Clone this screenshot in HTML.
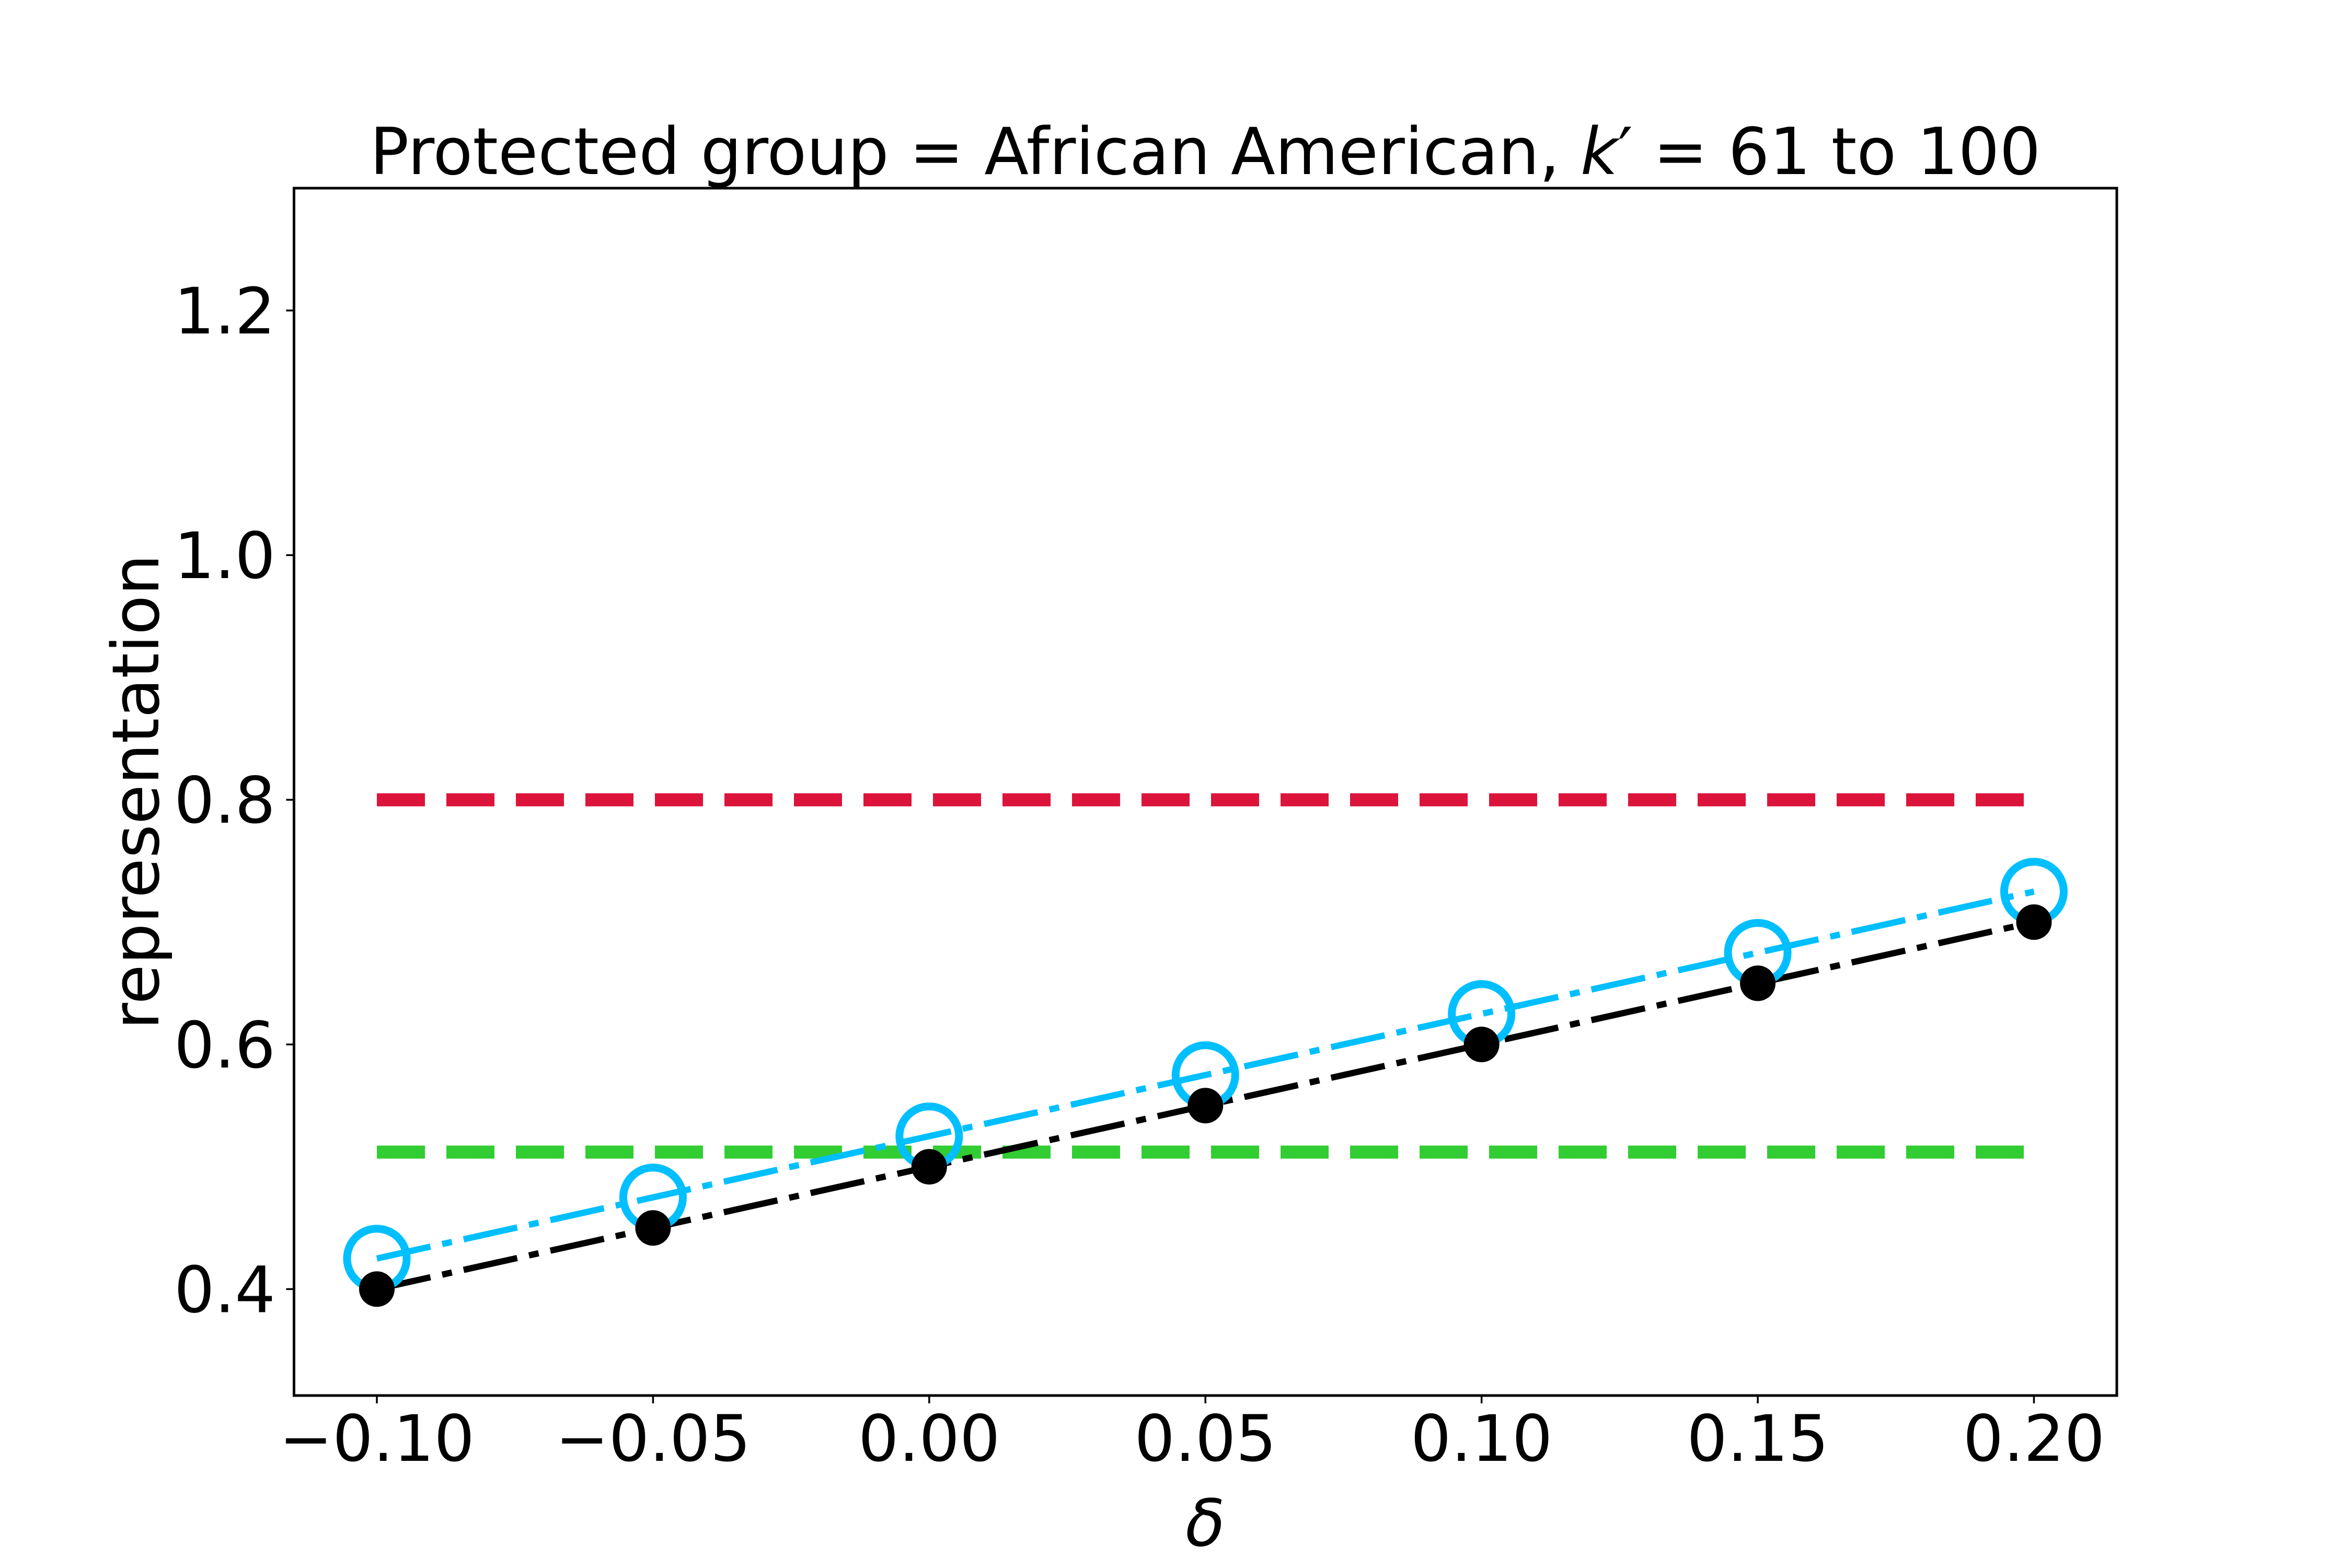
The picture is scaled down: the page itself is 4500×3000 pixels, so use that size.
<!DOCTYPE html>
<html><head><meta charset="utf-8">
<style>html,body{margin:0;padding:0;background:#fff;}svg{display:block;}text{font-family:"DejaVu Sans","Liberation Sans",sans-serif;fill:#000;}</style>
</head><body>
<svg id="chart" width="4500" height="3000" viewBox="0 0 4500 3000" xmlns="http://www.w3.org/2000/svg">
<rect width="4500" height="3000" fill="#fff"/>
<text x="2306" y="333" font-size="124" text-anchor="middle">Protected group = African American, <tspan font-style="italic">k</tspan>′ = 61 to 100</text>
<g id="plot"></g>
<rect x="562.5" y="360" width="3487.5" height="2310" fill="none" stroke="#000" stroke-width="5"/>
<text x="303" y="1515" font-size="124" text-anchor="middle" transform="rotate(-90 303 1515)">representation</text>
<text x="2306" y="2957" font-size="124" font-style="italic" text-anchor="middle">δ</text>
</svg>
<script>
const deltas = [-0.10, -0.05, 0.00, 0.05, 0.10, 0.15, 0.20];
const seriesBlack = [0.40, 0.45, 0.50, 0.55, 0.60, 0.65, 0.70];
const seriesBlue = [0.425, 0.475, 0.525, 0.575, 0.625, 0.675, 0.725];
const redLevel = [0.80];
const greenLevel = [0.512];
const xTicks = [-0.10, -0.05, 0.00, 0.05, 0.10, 0.15, 0.20];
const xTickLabels = ["\u22120.10", "\u22120.05", "0.00", "0.05", "0.10", "0.15", "0.20"];
const yTicks = [0.4, 0.6, 0.8, 1.0, 1.2];
const yTickLabels = ["0.4", "0.6", "0.8", "1.0", "1.2"];

const L = 562.5, R = 4050, T = 360, B = 2670;
const xmin = -0.115, xmax = 0.215, ymin = 0.313, ymax = 1.3;
function sx(v) { return L + (v - xmin) / (xmax - xmin) * (R - L); }
function sy(v) { return B - (v - ymin) / (ymax - ymin) * (B - T); }
const NS = "http://www.w3.org/2000/svg";
const svg = document.getElementById('chart');
const plot = document.getElementById('plot');
function mk(tag, attrs, parent) {
  const e = document.createElementNS(NS, tag);
  for (const k in attrs) e.setAttribute(k, attrs[k]);
  (parent || svg).appendChild(e);
  return e;
}
// horizontal reference lines
let e;
e = mk('line', {x1: sx(deltas[0]), x2: sx(deltas[deltas.length-1]), y1: sy(redLevel[0]), y2: sy(redLevel[0]), stroke: '#DC143C', 'stroke-width': 25, 'stroke-dasharray': '92 41'}, plot);


e = mk('line', {x1: sx(deltas[0]), x2: sx(deltas[deltas.length-1]), y1: sy(greenLevel[0]), y2: sy(greenLevel[0]), stroke: '#32CD32', 'stroke-width': 25, 'stroke-dasharray': '92 41'}, plot);


// series lines
function pts(arr) { return arr.map((v, i) => sx(deltas[i]) + ',' + sy(v)).join(' '); }
e = mk('polyline', {points: pts(seriesBlue), fill: 'none', stroke: '#00BFFF', 'stroke-width': 12, 'stroke-dasharray': '105 23 19 23'}, plot);


e = mk('polyline', {points: pts(seriesBlack), fill: 'none', stroke: '#000', 'stroke-width': 12, 'stroke-dasharray': '105 23 19 23'}, plot);


seriesBlue.forEach((v, i) => {
  const c = mk('circle', {cx: sx(deltas[i]), cy: sy(v), r: 57, fill: 'none', stroke: '#00BFFF', 'stroke-width': 15}, plot);
  
  
});
seriesBlack.forEach((v, i) => {
  const c = mk('circle', {cx: sx(deltas[i]), cy: sy(v), r: 34, fill: '#000'}, plot);
  
  
});
// x ticks
xTicks.forEach((v, i) => {
  const t = mk('line', {x1: sx(v), x2: sx(v), y1: B, y2: B + 15, stroke: '#000', 'stroke-width': 3.5});
  
  
  const lb = mk('text', {x: sx(v), y: 2795, 'font-size': 122, 'text-anchor': 'middle'});
  lb.textContent = xTickLabels[i];
  
  
});
// y ticks
yTicks.forEach((v, i) => {
  const t = mk('line', {x1: L - 15, x2: L, y1: sy(v), y2: sy(v), stroke: '#000', 'stroke-width': 3.5});
  
  
  const lb = mk('text', {x: 527, y: sy(v) + 44, 'font-size': 122, 'text-anchor': 'end'});
  lb.textContent = yTickLabels[i];
  
  
});
</script>
</body></html>
